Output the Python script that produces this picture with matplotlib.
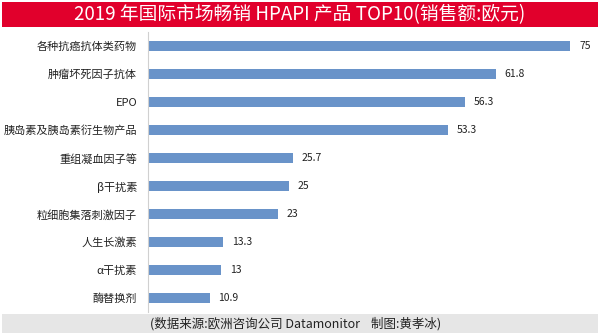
import matplotlib.pyplot as plt
from matplotlib.patches import Rectangle

plt.rcParams['font.family'] = ['Noto Sans CJK SC', 'DejaVu Sans']

categories = ['各种抗癌抗体类药物', '肿瘤坏死因子抗体', 'EPO', '胰岛素及胰岛素衍生物产品',
              '重组凝血因子等', 'β干扰素', '粒细胞集落刺激因子', '人生长激素', 'α干扰素', '酶替换剂']
values = [75, 61.8, 56.3, 53.3, 25.7, 25, 23, 13.3, 13, 10.9]
value_labels = ['75', '61.8', '56.3', '53.3', '25.7', '25', '23', '13.3', '13', '10.9']

title = '2019 年国际市场畅销 HPAPI 产品 TOP10(销售额:欧元)'
source = '(数据来源:欧洲咨询公司 Datamonitor    制图:黄孝冰)'

fig = plt.figure(figsize=(6, 3.34), dpi=100)

# red title band
fig.patches.append(Rectangle((0.004, 0.918), 0.992, 0.076, transform=fig.transFigure,
                             facecolor='#e1002c', edgecolor='none'))
fig.text(0.5, 0.955, title, color='white', fontsize=13.5, ha='center', va='center')

# grey footer band
fig.patches.append(Rectangle((0.004, 0.004), 0.992, 0.056, transform=fig.transFigure,
                             facecolor='#e6e6e6', edgecolor='none'))
fig.text(0.25, 0.032, source, color='#222222', fontsize=9, ha='left', va='center')

ax = fig.add_axes([0.247, 0.066, 0.75, 0.838])
y = list(range(len(categories)))
ax.barh(y, values, height=0.34, color='#6993c9')
for yi, v, lab in zip(y, values, value_labels):
    ax.text(v + 1.6, yi, lab, va='center', ha='left', fontsize=7.5, color='#222222')

ax.set_xlim(0, 80)
ax.set_ylim(len(categories) - 0.5, -0.5)
ax.set_yticks(y)
ax.set_yticklabels(categories, fontsize=8, color='#222222')
ax.set_xticks([])
ax.tick_params(axis='y', length=0, pad=8)
for s in ['top', 'right', 'bottom']:
    ax.spines[s].set_visible(False)
ax.spines['left'].set_color('#d0d0d0')

fig.savefig('out.png', dpi=100)
